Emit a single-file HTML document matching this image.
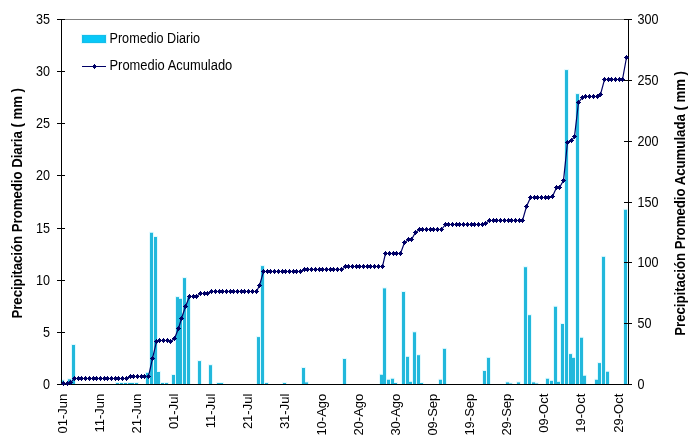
<!DOCTYPE html>
<html><head><meta charset="utf-8"><style>html,body{margin:0;padding:0;background:#fff;width:694px;height:442px;overflow:hidden;position:relative}</style></head>
<body><svg width="694" height="442" viewBox="0 0 694 442" style="position:absolute;left:0;top:0;will-change:transform"><rect x="0" y="0" width="694" height="442" fill="#fff"/><line x1="61" y1="19.5" x2="628" y2="19.5" stroke="#808080" stroke-width="1"/><rect x="60" y="379.5" width="5" height="4.5" fill="#E2FAFF"/><rect x="64" y="382.5" width="5" height="1.5" fill="#E2FAFF"/><rect x="67" y="378.3" width="5" height="5.7" fill="#E2FAFF"/><rect x="71" y="344.0" width="5" height="40.0" fill="#E2FAFF"/><rect x="115" y="382.0" width="5" height="2.0" fill="#E2FAFF"/><rect x="119" y="382.0" width="5" height="2.0" fill="#E2FAFF"/><rect x="123" y="382.0" width="5" height="2.0" fill="#E2FAFF"/><rect x="127" y="382.0" width="5" height="2.0" fill="#E2FAFF"/><rect x="130" y="382.0" width="5" height="2.0" fill="#E2FAFF"/><rect x="134" y="382.0" width="5" height="2.0" fill="#E2FAFF"/><rect x="145" y="371.9" width="5" height="12.1" fill="#E2FAFF"/><rect x="149" y="231.8" width="5" height="152.2" fill="#E2FAFF"/><rect x="153" y="236.0" width="5" height="148.0" fill="#E2FAFF"/><rect x="156" y="371.0" width="5" height="13.0" fill="#E2FAFF"/><rect x="160" y="382.0" width="5" height="2.0" fill="#E2FAFF"/><rect x="164" y="382.0" width="5" height="2.0" fill="#E2FAFF"/><rect x="171" y="374.0" width="5" height="10.0" fill="#E2FAFF"/><rect x="175" y="296.1" width="5" height="87.9" fill="#E2FAFF"/><rect x="178" y="297.9" width="5" height="86.1" fill="#E2FAFF"/><rect x="182" y="277.1" width="5" height="106.9" fill="#E2FAFF"/><rect x="186" y="296.4" width="5" height="87.6" fill="#E2FAFF"/><rect x="197" y="360.1" width="5" height="23.9" fill="#E2FAFF"/><rect x="208" y="364.2" width="5" height="19.8" fill="#E2FAFF"/><rect x="216" y="382.0" width="5" height="2.0" fill="#E2FAFF"/><rect x="219" y="382.0" width="5" height="2.0" fill="#E2FAFF"/><rect x="256" y="336.1" width="5" height="47.9" fill="#E2FAFF"/><rect x="260" y="265.1" width="5" height="118.9" fill="#E2FAFF"/><rect x="264" y="382.0" width="5" height="2.0" fill="#E2FAFF"/><rect x="282" y="382.0" width="5" height="2.0" fill="#E2FAFF"/><rect x="301" y="367.0" width="5" height="17.0" fill="#E2FAFF"/><rect x="304" y="381.4" width="5" height="2.6" fill="#E2FAFF"/><rect x="342" y="358.0" width="5" height="26.0" fill="#E2FAFF"/><rect x="379" y="373.8" width="5" height="10.2" fill="#E2FAFF"/><rect x="382" y="287.4" width="5" height="96.6" fill="#E2FAFF"/><rect x="386" y="378.8" width="5" height="5.2" fill="#E2FAFF"/><rect x="390" y="377.8" width="5" height="6.2" fill="#E2FAFF"/><rect x="393" y="382.0" width="5" height="2.0" fill="#E2FAFF"/><rect x="401" y="291.0" width="5" height="93.0" fill="#E2FAFF"/><rect x="405" y="355.9" width="5" height="28.1" fill="#E2FAFF"/><rect x="408" y="380.9" width="5" height="3.1" fill="#E2FAFF"/><rect x="412" y="331.3" width="5" height="52.7" fill="#E2FAFF"/><rect x="416" y="354.2" width="5" height="29.8" fill="#E2FAFF"/><rect x="419" y="382.0" width="5" height="2.0" fill="#E2FAFF"/><rect x="438" y="378.8" width="5" height="5.2" fill="#E2FAFF"/><rect x="442" y="347.9" width="5" height="36.1" fill="#E2FAFF"/><rect x="482" y="370.0" width="5" height="14.0" fill="#E2FAFF"/><rect x="486" y="356.9" width="5" height="27.1" fill="#E2FAFF"/><rect x="505" y="381.4" width="5" height="2.6" fill="#E2FAFF"/><rect x="508" y="382.5" width="5" height="1.5" fill="#E2FAFF"/><rect x="516" y="381.4" width="5" height="2.6" fill="#E2FAFF"/><rect x="523" y="266.2" width="5" height="117.8" fill="#E2FAFF"/><rect x="527" y="314.2" width="5" height="69.8" fill="#E2FAFF"/><rect x="531" y="381.4" width="5" height="2.6" fill="#E2FAFF"/><rect x="534" y="382.5" width="5" height="1.5" fill="#E2FAFF"/><rect x="545" y="377.8" width="5" height="6.2" fill="#E2FAFF"/><rect x="549" y="379.9" width="5" height="4.1" fill="#E2FAFF"/><rect x="553" y="305.8" width="5" height="78.2" fill="#E2FAFF"/><rect x="556" y="380.9" width="5" height="3.1" fill="#E2FAFF"/><rect x="560" y="323.0" width="5" height="61.0" fill="#E2FAFF"/><rect x="564" y="69.1" width="5" height="314.9" fill="#E2FAFF"/><rect x="568" y="353.1" width="5" height="30.9" fill="#E2FAFF"/><rect x="571" y="356.9" width="5" height="27.1" fill="#E2FAFF"/><rect x="575" y="93.1" width="5" height="290.9" fill="#E2FAFF"/><rect x="579" y="336.8" width="5" height="47.2" fill="#E2FAFF"/><rect x="582" y="374.8" width="5" height="9.2" fill="#E2FAFF"/><rect x="594" y="378.8" width="5" height="5.2" fill="#E2FAFF"/><rect x="597" y="362.1" width="5" height="21.9" fill="#E2FAFF"/><rect x="601" y="255.9" width="5" height="128.1" fill="#E2FAFF"/><rect x="605" y="370.8" width="5" height="13.2" fill="#E2FAFF"/><rect x="623" y="208.8" width="5" height="175.2" fill="#E2FAFF"/><rect x="61" y="380.5" width="3" height="3.5" fill="#22B8DC"/><rect x="65" y="383.5" width="3" height="0.5" fill="#22B8DC"/><rect x="68" y="379.3" width="3" height="4.7" fill="#22B8DC"/><rect x="72" y="345.0" width="3" height="39.0" fill="#22B8DC"/><rect x="116" y="383.0" width="3" height="1.0" fill="#22B8DC"/><rect x="120" y="383.0" width="3" height="1.0" fill="#22B8DC"/><rect x="124" y="383.0" width="3" height="1.0" fill="#22B8DC"/><rect x="128" y="383.0" width="3" height="1.0" fill="#22B8DC"/><rect x="131" y="383.0" width="3" height="1.0" fill="#22B8DC"/><rect x="135" y="383.0" width="3" height="1.0" fill="#22B8DC"/><rect x="146" y="372.9" width="3" height="11.1" fill="#22B8DC"/><rect x="150" y="232.8" width="3" height="151.2" fill="#22B8DC"/><rect x="154" y="237.0" width="3" height="147.0" fill="#22B8DC"/><rect x="157" y="372.0" width="3" height="12.0" fill="#22B8DC"/><rect x="161" y="383.0" width="3" height="1.0" fill="#22B8DC"/><rect x="165" y="383.0" width="3" height="1.0" fill="#22B8DC"/><rect x="172" y="375.0" width="3" height="9.0" fill="#22B8DC"/><rect x="176" y="297.1" width="3" height="86.9" fill="#22B8DC"/><rect x="179" y="298.9" width="3" height="85.1" fill="#22B8DC"/><rect x="183" y="278.1" width="3" height="105.9" fill="#22B8DC"/><rect x="187" y="297.4" width="3" height="86.6" fill="#22B8DC"/><rect x="198" y="361.1" width="3" height="22.9" fill="#22B8DC"/><rect x="209" y="365.2" width="3" height="18.8" fill="#22B8DC"/><rect x="217" y="383.0" width="3" height="1.0" fill="#22B8DC"/><rect x="220" y="383.0" width="3" height="1.0" fill="#22B8DC"/><rect x="257" y="337.1" width="3" height="46.9" fill="#22B8DC"/><rect x="261" y="266.1" width="3" height="117.9" fill="#22B8DC"/><rect x="265" y="383.0" width="3" height="1.0" fill="#22B8DC"/><rect x="283" y="383.0" width="3" height="1.0" fill="#22B8DC"/><rect x="302" y="368.0" width="3" height="16.0" fill="#22B8DC"/><rect x="305" y="382.4" width="3" height="1.6" fill="#22B8DC"/><rect x="343" y="359.0" width="3" height="25.0" fill="#22B8DC"/><rect x="380" y="374.8" width="3" height="9.2" fill="#22B8DC"/><rect x="383" y="288.4" width="3" height="95.6" fill="#22B8DC"/><rect x="387" y="379.8" width="3" height="4.2" fill="#22B8DC"/><rect x="391" y="378.8" width="3" height="5.2" fill="#22B8DC"/><rect x="394" y="383.0" width="3" height="1.0" fill="#22B8DC"/><rect x="402" y="292.0" width="3" height="92.0" fill="#22B8DC"/><rect x="406" y="356.9" width="3" height="27.1" fill="#22B8DC"/><rect x="409" y="381.9" width="3" height="2.1" fill="#22B8DC"/><rect x="413" y="332.3" width="3" height="51.7" fill="#22B8DC"/><rect x="417" y="355.2" width="3" height="28.8" fill="#22B8DC"/><rect x="420" y="383.0" width="3" height="1.0" fill="#22B8DC"/><rect x="439" y="379.8" width="3" height="4.2" fill="#22B8DC"/><rect x="443" y="348.9" width="3" height="35.1" fill="#22B8DC"/><rect x="483" y="371.0" width="3" height="13.0" fill="#22B8DC"/><rect x="487" y="357.9" width="3" height="26.1" fill="#22B8DC"/><rect x="506" y="382.4" width="3" height="1.6" fill="#22B8DC"/><rect x="509" y="383.5" width="3" height="0.5" fill="#22B8DC"/><rect x="517" y="382.4" width="3" height="1.6" fill="#22B8DC"/><rect x="524" y="267.2" width="3" height="116.8" fill="#22B8DC"/><rect x="528" y="315.2" width="3" height="68.8" fill="#22B8DC"/><rect x="532" y="382.4" width="3" height="1.6" fill="#22B8DC"/><rect x="535" y="383.5" width="3" height="0.5" fill="#22B8DC"/><rect x="546" y="378.8" width="3" height="5.2" fill="#22B8DC"/><rect x="550" y="380.9" width="3" height="3.1" fill="#22B8DC"/><rect x="554" y="306.8" width="3" height="77.2" fill="#22B8DC"/><rect x="557" y="381.9" width="3" height="2.1" fill="#22B8DC"/><rect x="561" y="324.0" width="3" height="60.0" fill="#22B8DC"/><rect x="565" y="70.1" width="3" height="313.9" fill="#22B8DC"/><rect x="569" y="354.1" width="3" height="29.9" fill="#22B8DC"/><rect x="572" y="357.9" width="3" height="26.1" fill="#22B8DC"/><rect x="576" y="94.1" width="3" height="289.9" fill="#22B8DC"/><rect x="580" y="337.8" width="3" height="46.2" fill="#22B8DC"/><rect x="583" y="375.8" width="3" height="8.2" fill="#22B8DC"/><rect x="595" y="379.8" width="3" height="4.2" fill="#22B8DC"/><rect x="598" y="363.1" width="3" height="20.9" fill="#22B8DC"/><rect x="602" y="256.9" width="3" height="127.1" fill="#22B8DC"/><rect x="606" y="371.8" width="3" height="12.2" fill="#22B8DC"/><rect x="624" y="209.8" width="3" height="174.2" fill="#22B8DC"/><line x1="61.5" y1="19" x2="61.5" y2="385" stroke="#000" stroke-width="1"/><line x1="628.5" y1="19" x2="628.5" y2="385" stroke="#000" stroke-width="1"/><line x1="61" y1="384.5" x2="629" y2="384.5" stroke="#000" stroke-width="1"/><line x1="57" y1="384.5" x2="65" y2="384.5" stroke="#000" stroke-width="1"/><text x="50" y="389" text-anchor="end" font-family="Liberation Sans" font-size="14" textLength="7.0" lengthAdjust="spacingAndGlyphs">0</text><line x1="57" y1="332.5" x2="65" y2="332.5" stroke="#000" stroke-width="1"/><text x="50" y="337" text-anchor="end" font-family="Liberation Sans" font-size="14" textLength="7.0" lengthAdjust="spacingAndGlyphs">5</text><line x1="57" y1="280.5" x2="65" y2="280.5" stroke="#000" stroke-width="1"/><text x="50" y="285" text-anchor="end" font-family="Liberation Sans" font-size="14" textLength="14.0" lengthAdjust="spacingAndGlyphs">10</text><line x1="57" y1="228.5" x2="65" y2="228.5" stroke="#000" stroke-width="1"/><text x="50" y="233" text-anchor="end" font-family="Liberation Sans" font-size="14" textLength="14.0" lengthAdjust="spacingAndGlyphs">15</text><line x1="57" y1="175.5" x2="65" y2="175.5" stroke="#000" stroke-width="1"/><text x="50" y="180" text-anchor="end" font-family="Liberation Sans" font-size="14" textLength="14.0" lengthAdjust="spacingAndGlyphs">20</text><line x1="57" y1="123.5" x2="65" y2="123.5" stroke="#000" stroke-width="1"/><text x="50" y="128" text-anchor="end" font-family="Liberation Sans" font-size="14" textLength="14.0" lengthAdjust="spacingAndGlyphs">25</text><line x1="57" y1="71.5" x2="65" y2="71.5" stroke="#000" stroke-width="1"/><text x="50" y="76" text-anchor="end" font-family="Liberation Sans" font-size="14" textLength="14.0" lengthAdjust="spacingAndGlyphs">30</text><line x1="57" y1="19.5" x2="65" y2="19.5" stroke="#000" stroke-width="1"/><text x="50" y="24" text-anchor="end" font-family="Liberation Sans" font-size="14" textLength="14.0" lengthAdjust="spacingAndGlyphs">35</text><line x1="624" y1="384.5" x2="632" y2="384.5" stroke="#000" stroke-width="1"/><text x="637.5" y="389" font-family="Liberation Sans" font-size="14" textLength="7.0" lengthAdjust="spacingAndGlyphs">0</text><line x1="624" y1="323.5" x2="632" y2="323.5" stroke="#000" stroke-width="1"/><text x="637.5" y="328" font-family="Liberation Sans" font-size="14" textLength="14.0" lengthAdjust="spacingAndGlyphs">50</text><line x1="624" y1="262.5" x2="632" y2="262.5" stroke="#000" stroke-width="1"/><text x="637.5" y="267" font-family="Liberation Sans" font-size="14" textLength="21.0" lengthAdjust="spacingAndGlyphs">100</text><line x1="624" y1="202.5" x2="632" y2="202.5" stroke="#000" stroke-width="1"/><text x="637.5" y="207" font-family="Liberation Sans" font-size="14" textLength="21.0" lengthAdjust="spacingAndGlyphs">150</text><line x1="624" y1="141.5" x2="632" y2="141.5" stroke="#000" stroke-width="1"/><text x="637.5" y="146" font-family="Liberation Sans" font-size="14" textLength="21.0" lengthAdjust="spacingAndGlyphs">200</text><line x1="624" y1="80.5" x2="632" y2="80.5" stroke="#000" stroke-width="1"/><text x="637.5" y="85" font-family="Liberation Sans" font-size="14" textLength="21.0" lengthAdjust="spacingAndGlyphs">250</text><line x1="624" y1="19.5" x2="632" y2="19.5" stroke="#000" stroke-width="1"/><text x="637.5" y="24" font-family="Liberation Sans" font-size="14" textLength="21.0" lengthAdjust="spacingAndGlyphs">300</text><polyline points="63.50,383.50 67.50,383.50 70.50,382.50 74.50,378.50 78.50,378.50 81.50,378.50 85.50,378.50 89.50,378.50 93.50,378.50 96.50,378.50 100.50,378.50 104.50,378.50 107.50,378.50 111.50,378.50 115.50,378.50 118.50,378.50 122.50,378.50 126.50,378.50 130.50,376.50 133.50,376.50 137.50,376.50 141.50,376.50 144.50,376.50 148.50,376.50 152.50,358.50 156.50,341.50 159.50,340.50 163.50,340.50 167.50,340.50 170.50,341.50 174.50,338.50 178.50,328.50 181.50,318.50 185.50,306.50 189.50,296.50 193.50,296.50 196.50,296.50 200.50,293.50 204.50,293.50 207.50,293.50 211.50,291.50 215.50,291.50 219.50,291.50 222.50,291.50 226.50,291.50 230.50,291.50 233.50,291.50 237.50,291.50 241.50,291.50 244.50,291.50 248.50,291.50 252.50,291.50 256.50,291.50 259.50,285.50 263.50,271.50 267.50,271.50 270.50,271.50 274.50,271.50 278.50,271.50 282.50,271.50 285.50,271.50 289.50,271.50 293.50,271.50 296.50,271.50 300.50,271.50 304.50,269.50 307.50,269.50 311.50,269.50 315.50,269.50 319.50,269.50 322.50,269.50 326.50,269.50 330.50,269.50 333.50,269.50 337.50,269.50 341.50,269.50 345.50,266.50 348.50,266.50 352.50,266.50 356.50,266.50 359.50,266.50 363.50,266.50 367.50,266.50 370.50,266.50 374.50,266.50 378.50,266.50 382.50,266.50 385.50,253.50 389.50,253.50 393.50,253.50 396.50,253.50 400.50,253.50 404.50,242.50 408.50,239.50 411.50,239.50 415.50,232.50 419.50,229.50 422.50,229.50 426.50,229.50 430.50,229.50 433.50,229.50 437.50,229.50 441.50,229.50 445.50,224.50 448.50,224.50 452.50,224.50 456.50,224.50 459.50,224.50 463.50,224.50 467.50,224.50 471.50,224.50 474.50,224.50 478.50,224.50 482.50,224.50 485.50,223.50 489.50,220.50 493.50,220.50 496.50,220.50 500.50,220.50 504.50,220.50 508.50,220.50 511.50,220.50 515.50,220.50 519.50,220.50 522.50,220.50 526.50,206.50 530.50,197.50 534.50,197.50 537.50,197.50 541.50,197.50 545.50,197.50 548.50,197.50 552.50,196.50 556.50,187.50 559.50,187.50 563.50,180.50 567.50,142.50 571.50,140.50 574.50,136.50 578.50,102.50 582.50,97.50 585.50,96.50 589.50,96.50 593.50,96.50 597.50,96.50 600.50,94.50 604.50,79.50 608.50,79.50 611.50,79.50 615.50,79.50 619.50,79.50 622.50,79.50 626.50,57.50" fill="none" stroke="#000066" stroke-width="1.2"/><path d="M63,381h1v1h1v1h1v1h-1v1h-1v1h-1v-1h-1v-1h-1v-1h1v-1h1zM67,381h1v1h1v1h1v1h-1v1h-1v1h-1v-1h-1v-1h-1v-1h1v-1h1zM70,380h1v1h1v1h1v1h-1v1h-1v1h-1v-1h-1v-1h-1v-1h1v-1h1zM74,376h1v1h1v1h1v1h-1v1h-1v1h-1v-1h-1v-1h-1v-1h1v-1h1zM78,376h1v1h1v1h1v1h-1v1h-1v1h-1v-1h-1v-1h-1v-1h1v-1h1zM81,376h1v1h1v1h1v1h-1v1h-1v1h-1v-1h-1v-1h-1v-1h1v-1h1zM85,376h1v1h1v1h1v1h-1v1h-1v1h-1v-1h-1v-1h-1v-1h1v-1h1zM89,376h1v1h1v1h1v1h-1v1h-1v1h-1v-1h-1v-1h-1v-1h1v-1h1zM93,376h1v1h1v1h1v1h-1v1h-1v1h-1v-1h-1v-1h-1v-1h1v-1h1zM96,376h1v1h1v1h1v1h-1v1h-1v1h-1v-1h-1v-1h-1v-1h1v-1h1zM100,376h1v1h1v1h1v1h-1v1h-1v1h-1v-1h-1v-1h-1v-1h1v-1h1zM104,376h1v1h1v1h1v1h-1v1h-1v1h-1v-1h-1v-1h-1v-1h1v-1h1zM107,376h1v1h1v1h1v1h-1v1h-1v1h-1v-1h-1v-1h-1v-1h1v-1h1zM111,376h1v1h1v1h1v1h-1v1h-1v1h-1v-1h-1v-1h-1v-1h1v-1h1zM115,376h1v1h1v1h1v1h-1v1h-1v1h-1v-1h-1v-1h-1v-1h1v-1h1zM118,376h1v1h1v1h1v1h-1v1h-1v1h-1v-1h-1v-1h-1v-1h1v-1h1zM122,376h1v1h1v1h1v1h-1v1h-1v1h-1v-1h-1v-1h-1v-1h1v-1h1zM126,376h1v1h1v1h1v1h-1v1h-1v1h-1v-1h-1v-1h-1v-1h1v-1h1zM130,374h1v1h1v1h1v1h-1v1h-1v1h-1v-1h-1v-1h-1v-1h1v-1h1zM133,374h1v1h1v1h1v1h-1v1h-1v1h-1v-1h-1v-1h-1v-1h1v-1h1zM137,374h1v1h1v1h1v1h-1v1h-1v1h-1v-1h-1v-1h-1v-1h1v-1h1zM141,374h1v1h1v1h1v1h-1v1h-1v1h-1v-1h-1v-1h-1v-1h1v-1h1zM144,374h1v1h1v1h1v1h-1v1h-1v1h-1v-1h-1v-1h-1v-1h1v-1h1zM148,374h1v1h1v1h1v1h-1v1h-1v1h-1v-1h-1v-1h-1v-1h1v-1h1zM152,356h1v1h1v1h1v1h-1v1h-1v1h-1v-1h-1v-1h-1v-1h1v-1h1zM156,339h1v1h1v1h1v1h-1v1h-1v1h-1v-1h-1v-1h-1v-1h1v-1h1zM159,338h1v1h1v1h1v1h-1v1h-1v1h-1v-1h-1v-1h-1v-1h1v-1h1zM163,338h1v1h1v1h1v1h-1v1h-1v1h-1v-1h-1v-1h-1v-1h1v-1h1zM167,338h1v1h1v1h1v1h-1v1h-1v1h-1v-1h-1v-1h-1v-1h1v-1h1zM170,339h1v1h1v1h1v1h-1v1h-1v1h-1v-1h-1v-1h-1v-1h1v-1h1zM174,336h1v1h1v1h1v1h-1v1h-1v1h-1v-1h-1v-1h-1v-1h1v-1h1zM178,326h1v1h1v1h1v1h-1v1h-1v1h-1v-1h-1v-1h-1v-1h1v-1h1zM181,316h1v1h1v1h1v1h-1v1h-1v1h-1v-1h-1v-1h-1v-1h1v-1h1zM185,304h1v1h1v1h1v1h-1v1h-1v1h-1v-1h-1v-1h-1v-1h1v-1h1zM189,294h1v1h1v1h1v1h-1v1h-1v1h-1v-1h-1v-1h-1v-1h1v-1h1zM193,294h1v1h1v1h1v1h-1v1h-1v1h-1v-1h-1v-1h-1v-1h1v-1h1zM196,294h1v1h1v1h1v1h-1v1h-1v1h-1v-1h-1v-1h-1v-1h1v-1h1zM200,291h1v1h1v1h1v1h-1v1h-1v1h-1v-1h-1v-1h-1v-1h1v-1h1zM204,291h1v1h1v1h1v1h-1v1h-1v1h-1v-1h-1v-1h-1v-1h1v-1h1zM207,291h1v1h1v1h1v1h-1v1h-1v1h-1v-1h-1v-1h-1v-1h1v-1h1zM211,289h1v1h1v1h1v1h-1v1h-1v1h-1v-1h-1v-1h-1v-1h1v-1h1zM215,289h1v1h1v1h1v1h-1v1h-1v1h-1v-1h-1v-1h-1v-1h1v-1h1zM219,289h1v1h1v1h1v1h-1v1h-1v1h-1v-1h-1v-1h-1v-1h1v-1h1zM222,289h1v1h1v1h1v1h-1v1h-1v1h-1v-1h-1v-1h-1v-1h1v-1h1zM226,289h1v1h1v1h1v1h-1v1h-1v1h-1v-1h-1v-1h-1v-1h1v-1h1zM230,289h1v1h1v1h1v1h-1v1h-1v1h-1v-1h-1v-1h-1v-1h1v-1h1zM233,289h1v1h1v1h1v1h-1v1h-1v1h-1v-1h-1v-1h-1v-1h1v-1h1zM237,289h1v1h1v1h1v1h-1v1h-1v1h-1v-1h-1v-1h-1v-1h1v-1h1zM241,289h1v1h1v1h1v1h-1v1h-1v1h-1v-1h-1v-1h-1v-1h1v-1h1zM244,289h1v1h1v1h1v1h-1v1h-1v1h-1v-1h-1v-1h-1v-1h1v-1h1zM248,289h1v1h1v1h1v1h-1v1h-1v1h-1v-1h-1v-1h-1v-1h1v-1h1zM252,289h1v1h1v1h1v1h-1v1h-1v1h-1v-1h-1v-1h-1v-1h1v-1h1zM256,289h1v1h1v1h1v1h-1v1h-1v1h-1v-1h-1v-1h-1v-1h1v-1h1zM259,283h1v1h1v1h1v1h-1v1h-1v1h-1v-1h-1v-1h-1v-1h1v-1h1zM263,269h1v1h1v1h1v1h-1v1h-1v1h-1v-1h-1v-1h-1v-1h1v-1h1zM267,269h1v1h1v1h1v1h-1v1h-1v1h-1v-1h-1v-1h-1v-1h1v-1h1zM270,269h1v1h1v1h1v1h-1v1h-1v1h-1v-1h-1v-1h-1v-1h1v-1h1zM274,269h1v1h1v1h1v1h-1v1h-1v1h-1v-1h-1v-1h-1v-1h1v-1h1zM278,269h1v1h1v1h1v1h-1v1h-1v1h-1v-1h-1v-1h-1v-1h1v-1h1zM282,269h1v1h1v1h1v1h-1v1h-1v1h-1v-1h-1v-1h-1v-1h1v-1h1zM285,269h1v1h1v1h1v1h-1v1h-1v1h-1v-1h-1v-1h-1v-1h1v-1h1zM289,269h1v1h1v1h1v1h-1v1h-1v1h-1v-1h-1v-1h-1v-1h1v-1h1zM293,269h1v1h1v1h1v1h-1v1h-1v1h-1v-1h-1v-1h-1v-1h1v-1h1zM296,269h1v1h1v1h1v1h-1v1h-1v1h-1v-1h-1v-1h-1v-1h1v-1h1zM300,269h1v1h1v1h1v1h-1v1h-1v1h-1v-1h-1v-1h-1v-1h1v-1h1zM304,267h1v1h1v1h1v1h-1v1h-1v1h-1v-1h-1v-1h-1v-1h1v-1h1zM307,267h1v1h1v1h1v1h-1v1h-1v1h-1v-1h-1v-1h-1v-1h1v-1h1zM311,267h1v1h1v1h1v1h-1v1h-1v1h-1v-1h-1v-1h-1v-1h1v-1h1zM315,267h1v1h1v1h1v1h-1v1h-1v1h-1v-1h-1v-1h-1v-1h1v-1h1zM319,267h1v1h1v1h1v1h-1v1h-1v1h-1v-1h-1v-1h-1v-1h1v-1h1zM322,267h1v1h1v1h1v1h-1v1h-1v1h-1v-1h-1v-1h-1v-1h1v-1h1zM326,267h1v1h1v1h1v1h-1v1h-1v1h-1v-1h-1v-1h-1v-1h1v-1h1zM330,267h1v1h1v1h1v1h-1v1h-1v1h-1v-1h-1v-1h-1v-1h1v-1h1zM333,267h1v1h1v1h1v1h-1v1h-1v1h-1v-1h-1v-1h-1v-1h1v-1h1zM337,267h1v1h1v1h1v1h-1v1h-1v1h-1v-1h-1v-1h-1v-1h1v-1h1zM341,267h1v1h1v1h1v1h-1v1h-1v1h-1v-1h-1v-1h-1v-1h1v-1h1zM345,264h1v1h1v1h1v1h-1v1h-1v1h-1v-1h-1v-1h-1v-1h1v-1h1zM348,264h1v1h1v1h1v1h-1v1h-1v1h-1v-1h-1v-1h-1v-1h1v-1h1zM352,264h1v1h1v1h1v1h-1v1h-1v1h-1v-1h-1v-1h-1v-1h1v-1h1zM356,264h1v1h1v1h1v1h-1v1h-1v1h-1v-1h-1v-1h-1v-1h1v-1h1zM359,264h1v1h1v1h1v1h-1v1h-1v1h-1v-1h-1v-1h-1v-1h1v-1h1zM363,264h1v1h1v1h1v1h-1v1h-1v1h-1v-1h-1v-1h-1v-1h1v-1h1zM367,264h1v1h1v1h1v1h-1v1h-1v1h-1v-1h-1v-1h-1v-1h1v-1h1zM370,264h1v1h1v1h1v1h-1v1h-1v1h-1v-1h-1v-1h-1v-1h1v-1h1zM374,264h1v1h1v1h1v1h-1v1h-1v1h-1v-1h-1v-1h-1v-1h1v-1h1zM378,264h1v1h1v1h1v1h-1v1h-1v1h-1v-1h-1v-1h-1v-1h1v-1h1zM382,264h1v1h1v1h1v1h-1v1h-1v1h-1v-1h-1v-1h-1v-1h1v-1h1zM385,251h1v1h1v1h1v1h-1v1h-1v1h-1v-1h-1v-1h-1v-1h1v-1h1zM389,251h1v1h1v1h1v1h-1v1h-1v1h-1v-1h-1v-1h-1v-1h1v-1h1zM393,251h1v1h1v1h1v1h-1v1h-1v1h-1v-1h-1v-1h-1v-1h1v-1h1zM396,251h1v1h1v1h1v1h-1v1h-1v1h-1v-1h-1v-1h-1v-1h1v-1h1zM400,251h1v1h1v1h1v1h-1v1h-1v1h-1v-1h-1v-1h-1v-1h1v-1h1zM404,240h1v1h1v1h1v1h-1v1h-1v1h-1v-1h-1v-1h-1v-1h1v-1h1zM408,237h1v1h1v1h1v1h-1v1h-1v1h-1v-1h-1v-1h-1v-1h1v-1h1zM411,237h1v1h1v1h1v1h-1v1h-1v1h-1v-1h-1v-1h-1v-1h1v-1h1zM415,230h1v1h1v1h1v1h-1v1h-1v1h-1v-1h-1v-1h-1v-1h1v-1h1zM419,227h1v1h1v1h1v1h-1v1h-1v1h-1v-1h-1v-1h-1v-1h1v-1h1zM422,227h1v1h1v1h1v1h-1v1h-1v1h-1v-1h-1v-1h-1v-1h1v-1h1zM426,227h1v1h1v1h1v1h-1v1h-1v1h-1v-1h-1v-1h-1v-1h1v-1h1zM430,227h1v1h1v1h1v1h-1v1h-1v1h-1v-1h-1v-1h-1v-1h1v-1h1zM433,227h1v1h1v1h1v1h-1v1h-1v1h-1v-1h-1v-1h-1v-1h1v-1h1zM437,227h1v1h1v1h1v1h-1v1h-1v1h-1v-1h-1v-1h-1v-1h1v-1h1zM441,227h1v1h1v1h1v1h-1v1h-1v1h-1v-1h-1v-1h-1v-1h1v-1h1zM445,222h1v1h1v1h1v1h-1v1h-1v1h-1v-1h-1v-1h-1v-1h1v-1h1zM448,222h1v1h1v1h1v1h-1v1h-1v1h-1v-1h-1v-1h-1v-1h1v-1h1zM452,222h1v1h1v1h1v1h-1v1h-1v1h-1v-1h-1v-1h-1v-1h1v-1h1zM456,222h1v1h1v1h1v1h-1v1h-1v1h-1v-1h-1v-1h-1v-1h1v-1h1zM459,222h1v1h1v1h1v1h-1v1h-1v1h-1v-1h-1v-1h-1v-1h1v-1h1zM463,222h1v1h1v1h1v1h-1v1h-1v1h-1v-1h-1v-1h-1v-1h1v-1h1zM467,222h1v1h1v1h1v1h-1v1h-1v1h-1v-1h-1v-1h-1v-1h1v-1h1zM471,222h1v1h1v1h1v1h-1v1h-1v1h-1v-1h-1v-1h-1v-1h1v-1h1zM474,222h1v1h1v1h1v1h-1v1h-1v1h-1v-1h-1v-1h-1v-1h1v-1h1zM478,222h1v1h1v1h1v1h-1v1h-1v1h-1v-1h-1v-1h-1v-1h1v-1h1zM482,222h1v1h1v1h1v1h-1v1h-1v1h-1v-1h-1v-1h-1v-1h1v-1h1zM485,221h1v1h1v1h1v1h-1v1h-1v1h-1v-1h-1v-1h-1v-1h1v-1h1zM489,218h1v1h1v1h1v1h-1v1h-1v1h-1v-1h-1v-1h-1v-1h1v-1h1zM493,218h1v1h1v1h1v1h-1v1h-1v1h-1v-1h-1v-1h-1v-1h1v-1h1zM496,218h1v1h1v1h1v1h-1v1h-1v1h-1v-1h-1v-1h-1v-1h1v-1h1zM500,218h1v1h1v1h1v1h-1v1h-1v1h-1v-1h-1v-1h-1v-1h1v-1h1zM504,218h1v1h1v1h1v1h-1v1h-1v1h-1v-1h-1v-1h-1v-1h1v-1h1zM508,218h1v1h1v1h1v1h-1v1h-1v1h-1v-1h-1v-1h-1v-1h1v-1h1zM511,218h1v1h1v1h1v1h-1v1h-1v1h-1v-1h-1v-1h-1v-1h1v-1h1zM515,218h1v1h1v1h1v1h-1v1h-1v1h-1v-1h-1v-1h-1v-1h1v-1h1zM519,218h1v1h1v1h1v1h-1v1h-1v1h-1v-1h-1v-1h-1v-1h1v-1h1zM522,218h1v1h1v1h1v1h-1v1h-1v1h-1v-1h-1v-1h-1v-1h1v-1h1zM526,204h1v1h1v1h1v1h-1v1h-1v1h-1v-1h-1v-1h-1v-1h1v-1h1zM530,195h1v1h1v1h1v1h-1v1h-1v1h-1v-1h-1v-1h-1v-1h1v-1h1zM534,195h1v1h1v1h1v1h-1v1h-1v1h-1v-1h-1v-1h-1v-1h1v-1h1zM537,195h1v1h1v1h1v1h-1v1h-1v1h-1v-1h-1v-1h-1v-1h1v-1h1zM541,195h1v1h1v1h1v1h-1v1h-1v1h-1v-1h-1v-1h-1v-1h1v-1h1zM545,195h1v1h1v1h1v1h-1v1h-1v1h-1v-1h-1v-1h-1v-1h1v-1h1zM548,195h1v1h1v1h1v1h-1v1h-1v1h-1v-1h-1v-1h-1v-1h1v-1h1zM552,194h1v1h1v1h1v1h-1v1h-1v1h-1v-1h-1v-1h-1v-1h1v-1h1zM556,185h1v1h1v1h1v1h-1v1h-1v1h-1v-1h-1v-1h-1v-1h1v-1h1zM559,185h1v1h1v1h1v1h-1v1h-1v1h-1v-1h-1v-1h-1v-1h1v-1h1zM563,178h1v1h1v1h1v1h-1v1h-1v1h-1v-1h-1v-1h-1v-1h1v-1h1zM567,140h1v1h1v1h1v1h-1v1h-1v1h-1v-1h-1v-1h-1v-1h1v-1h1zM571,138h1v1h1v1h1v1h-1v1h-1v1h-1v-1h-1v-1h-1v-1h1v-1h1zM574,134h1v1h1v1h1v1h-1v1h-1v1h-1v-1h-1v-1h-1v-1h1v-1h1zM578,100h1v1h1v1h1v1h-1v1h-1v1h-1v-1h-1v-1h-1v-1h1v-1h1zM582,95h1v1h1v1h1v1h-1v1h-1v1h-1v-1h-1v-1h-1v-1h1v-1h1zM585,94h1v1h1v1h1v1h-1v1h-1v1h-1v-1h-1v-1h-1v-1h1v-1h1zM589,94h1v1h1v1h1v1h-1v1h-1v1h-1v-1h-1v-1h-1v-1h1v-1h1zM593,94h1v1h1v1h1v1h-1v1h-1v1h-1v-1h-1v-1h-1v-1h1v-1h1zM597,94h1v1h1v1h1v1h-1v1h-1v1h-1v-1h-1v-1h-1v-1h1v-1h1zM600,92h1v1h1v1h1v1h-1v1h-1v1h-1v-1h-1v-1h-1v-1h1v-1h1zM604,77h1v1h1v1h1v1h-1v1h-1v1h-1v-1h-1v-1h-1v-1h1v-1h1zM608,77h1v1h1v1h1v1h-1v1h-1v1h-1v-1h-1v-1h-1v-1h1v-1h1zM611,77h1v1h1v1h1v1h-1v1h-1v1h-1v-1h-1v-1h-1v-1h1v-1h1zM615,77h1v1h1v1h1v1h-1v1h-1v1h-1v-1h-1v-1h-1v-1h1v-1h1zM619,77h1v1h1v1h1v1h-1v1h-1v1h-1v-1h-1v-1h-1v-1h1v-1h1zM622,77h1v1h1v1h1v1h-1v1h-1v1h-1v-1h-1v-1h-1v-1h1v-1h1zM626,55h1v1h1v1h1v1h-1v1h-1v1h-1v-1h-1v-1h-1v-1h1v-1h1z" fill="#000066" shape-rendering="crispEdges"/><text transform="translate(66.65,393.7) rotate(-90)" text-anchor="end" font-family="Liberation Sans" font-size="13">01-Jun</text><text transform="translate(103.71,393.7) rotate(-90)" text-anchor="end" font-family="Liberation Sans" font-size="13">11-Jun</text><text transform="translate(140.77,393.7) rotate(-90)" text-anchor="end" font-family="Liberation Sans" font-size="13">21-Jun</text><text transform="translate(177.83,393.7) rotate(-90)" text-anchor="end" font-family="Liberation Sans" font-size="13">01-Jul</text><text transform="translate(214.89,393.7) rotate(-90)" text-anchor="end" font-family="Liberation Sans" font-size="13">11-Jul</text><text transform="translate(251.95,393.7) rotate(-90)" text-anchor="end" font-family="Liberation Sans" font-size="13">21-Jul</text><text transform="translate(289.01,393.7) rotate(-90)" text-anchor="end" font-family="Liberation Sans" font-size="13">31-Jul</text><text transform="translate(326.06,393.7) rotate(-90)" text-anchor="end" font-family="Liberation Sans" font-size="13">10-Ago</text><text transform="translate(363.12,393.7) rotate(-90)" text-anchor="end" font-family="Liberation Sans" font-size="13">20-Ago</text><text transform="translate(400.18,393.7) rotate(-90)" text-anchor="end" font-family="Liberation Sans" font-size="13">30-Ago</text><text transform="translate(437.24,393.7) rotate(-90)" text-anchor="end" font-family="Liberation Sans" font-size="13">09-Sep</text><text transform="translate(474.30,393.7) rotate(-90)" text-anchor="end" font-family="Liberation Sans" font-size="13">19-Sep</text><text transform="translate(511.36,393.7) rotate(-90)" text-anchor="end" font-family="Liberation Sans" font-size="13">29-Sep</text><text transform="translate(548.42,393.7) rotate(-90)" text-anchor="end" font-family="Liberation Sans" font-size="13">09-Oct</text><text transform="translate(585.48,393.7) rotate(-90)" text-anchor="end" font-family="Liberation Sans" font-size="13">19-Oct</text><text transform="translate(622.54,393.7) rotate(-90)" text-anchor="end" font-family="Liberation Sans" font-size="13">29-Oct</text><rect x="81" y="34" width="26" height="10" fill="#E2FAFF"/><rect x="82" y="35" width="24" height="8" fill="#14BEEA"/><rect x="84" y="36" width="20" height="6" fill="#08C8F8"/><text x="109.5" y="43" font-family="Liberation Sans" font-size="14" textLength="90.5" lengthAdjust="spacingAndGlyphs">Promedio Diario</text><line x1="82" y1="66.5" x2="106" y2="66.5" stroke="#000066" stroke-width="1" shape-rendering="crispEdges"/><path d="M94,64h1v1h1v1h1v1h-1v1h-1v1h-1v-1h-1v-1h-1v-1h1v-1h1z" fill="#000066" shape-rendering="crispEdges"/><text x="109.5" y="69.6" font-family="Liberation Sans" font-size="14" textLength="122.8" lengthAdjust="spacingAndGlyphs">Promedio Acumulado</text><text transform="translate(22.3,318.6) rotate(-90)" font-family="Liberation Sans" font-weight="bold" font-size="14" textLength="230.5" lengthAdjust="spacingAndGlyphs">Precipitación Promedio Diaria ( mm )</text><text transform="translate(685,335.8) rotate(-90)" font-family="Liberation Sans" font-weight="bold" font-size="14" textLength="264.8" lengthAdjust="spacingAndGlyphs">Precipitación Promedio Acumulada ( mm )</text></svg></body></html>
